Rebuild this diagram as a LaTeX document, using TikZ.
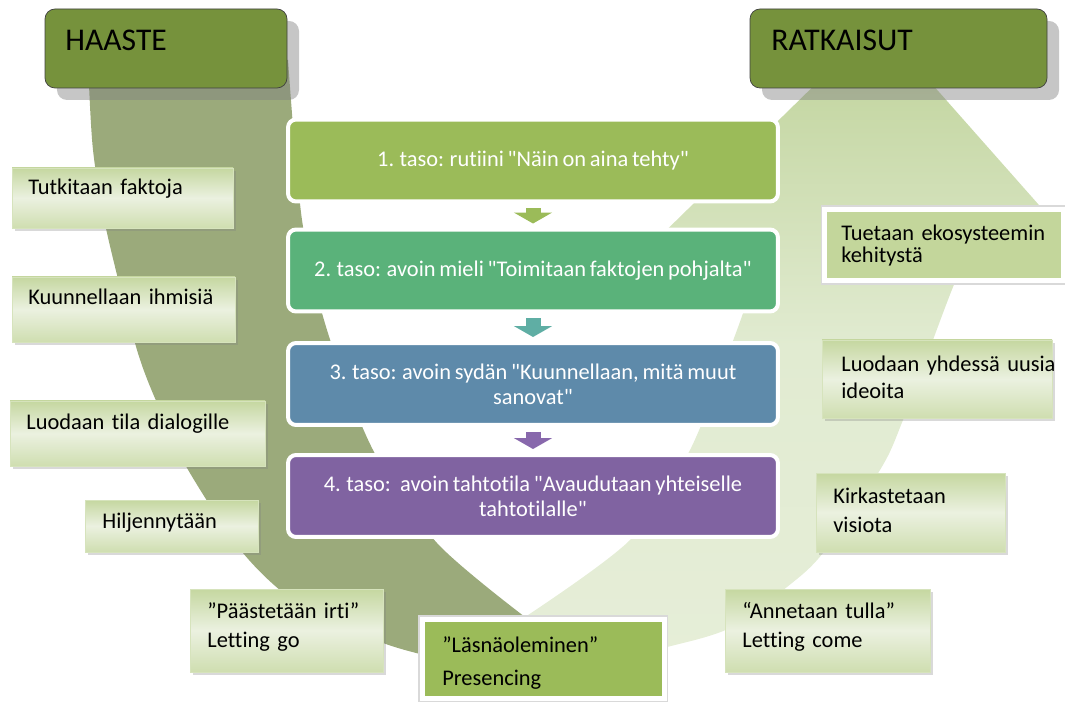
\documentclass[tikz,border=0pt]{standalone}
\usepackage{fontspec}
\setmainfont{Carlito}[Ligatures={TeXOff,NoCommon}, WordSpace=0.75]
\usetikzlibrary{arrows.meta,fit,shadows}
\definecolor{hdgreen}{RGB}{118,146,60}
\definecolor{darkband}{RGB}{155,170,123}
\definecolor{bandtop}{RGB}{190,210,152}
\definecolor{bandmid}{RGB}{225,235,209}
\definecolor{bandlow}{RGB}{230,238,216}
\definecolor{lvone}{RGB}{155,187,89}
\definecolor{lvtwo}{RGB}{90,178,122}
\definecolor{lvthree}{RGB}{94,138,170}
\definecolor{lvfour}{RGB}{128,99,161}
\definecolor{artwo}{RGB}{95,174,164}
\definecolor{arthree}{RGB}{136,104,172}
\definecolor{sdtop}{RGB}{197,215,160}
\definecolor{sdmid}{RGB}{235,241,224}
\definecolor{sdlow}{RGB}{207,222,176}
\definecolor{sdline}{RGB}{214,227,188}
\definecolor{ekofill}{RGB}{195,214,155}

\begin{document}
\begin{tikzpicture}[x=0.02cm, y=-0.02cm,
  header/.style={draw=black!75, fill=hdgreen, rounded corners=0.2cm, inner sep=0pt,
    drop shadow={shadow xshift=0.24cm, shadow yshift=-0.24cm, opacity=0.45}},
  headtext/.style={anchor=base west, inner sep=0pt, font=\fontsize{18}{22}\selectfont},
  level/.style={draw=white, line width=0.08cm, rounded corners=0.16cm, minimum width=9.8cm,
    minimum height=1.64cm, text=white, align=center, font=\fontsize{12.75}{14.2}\selectfont},
  lvarrow/.style={line width=0.3cm, -{Triangle[width=0.76cm,length=0.22cm]},
    shorten <=0.1cm, shorten >=0.08cm},
  sidebox/.style={draw=sdline, inner sep=0pt, top color=sdtop, bottom color=sdlow, middle color=sdmid,
    drop shadow={shadow xshift=0.06cm, shadow yshift=-0.06cm, opacity=0.3}},
  framebox/.style={draw=white, line width=0.1cm, inner sep=0pt,
    preaction={draw=black!15, line width=0.16cm}},
  sidetext/.style={anchor=base west, inner sep=0pt, text width=4.4cm, align=left,
    font=\fontsize{12.75}{17}\selectfont}]
\useasboundingbox (0,0) rectangle (1065,702);

% the U: letting go (left) and letting come (right)
\fill[darkband] plot[smooth] coordinates {(88,60) (93,150) (107,233) (137,350) (160,410)
    (187,468) (243,553) (300,605) (383,643) (450,660) (530,667)}
  -- (525,617)
  -- plot[smooth] coordinates {(525,617) (437,543) (373,450) (327,330) (302,220) (288,60)} -- cycle;
\shade[top color=bandtop, bottom color=bandlow, middle color=bandmid]
  plot[smooth] coordinates {(530,667) (600,661) (667,647) (730,628) (787,587) (823,553)
    (880,470) (903,420) (953,287) (972,250)}
  -- (1046,213) -- (878,23) -- (640,256) -- (760,262)
  -- plot[smooth] coordinates {(760,262) (737,330) (690,450) (630,540) (525,617)} -- cycle;

% headers
\node[header, fit={(45,9) (287,88)}] (haaste) {};
\node[header, fit={(750,9) (1047,88)}] (ratkaisut) {};
\node[headtext] (haaste-t) at (65,51) {HAASTE};
\node[headtext] (ratkaisut-t) at (771,51) {RATKAISUT};

% levels
\node[level, fill=lvone] (taso1) at (533,160.5) {1. taso: rutiini "Näin on aina tehty"};
\node[level, fill=lvtwo] (taso2) at (533,270.5) {2. taso: avoin mieli "Toimitaan faktojen pohjalta"};
\node[level, fill=lvthree] (taso3) at (533,384) {3. taso: avoin sydän "Kuunnellaan, mitä muut\\sanovat"};
\node[level, fill=lvfour] (taso4) at (533,496) {4. taso: \ avoin tahtotila "Avaudutaan yhteiselle\\tahtotilalle"};
\draw[lvarrow, lvone] (taso1) -- (taso2);
\draw[lvarrow, artwo] (taso2) -- (taso3);
\draw[lvarrow, arthree] (taso3) -- (taso4);

% left side
\node[sidebox, fit={(12,168) (233,228)}] (faktat) {};
\node[sidetext] (faktat-t) at (28,195) {Tutkitaan faktoja};
\node[sidebox, fit={(12,277) (235,342)}] (ihmiset) {};
\node[sidetext] (ihmiset-t) at (28,305) {Kuunnellaan ihmisiä};
\node[sidebox, fit={(10,401) (265,466)}] (dialogi) {};
\node[sidetext] (dialogi-t) at (26,430) {Luodaan tila dialogille};
\node[sidebox, fit={(85,500) (258,552)}] (hiljaisuus) {};
\node[sidetext] (hiljaisuus-t) at (102,528) {Hiljennytään};
\node[sidebox, fit={(190,589) (383,672)}] (irti) {};
\node[sidetext] (irti-t) at (207,618) {”Päästetään irti”\\Letting go};

% bottom
\node[framebox, fill=lvone, fit={(422,619) (664,698)}] (lasna) {};
\node[sidetext, font=\fontsize{12.75}{18.8}\selectfont] (lasna-t) at (442,652) {”Läsnäoleminen”\\Presencing};

% right side
\node[framebox, fill=ekofill, fit={(824.5,209.5) (1063,281)}] (eko) {};
\node[sidetext, font=\fontsize{12.75}{12.5}\selectfont] (eko-t) at (841,241) {Tuetaan ekosysteemin\\kehitystä};
\node[sidebox, fit={(822,340) (1052,418)}] (ideat) {};
\node[sidetext, font=\fontsize{12.75}{14.8}\selectfont] (ideat-t) at (841,372) {Luodaan yhdessä uusia\\ideoita};
\node[sidebox, fit={(816,473) (1005,552)}] (visio) {};
\node[sidetext] (visio-t) at (833,503) {Kirkastetaan\\visiota};
\node[sidebox, fit={(725,589) (930,672)}] (tulla) {};
\node[sidetext] (tulla-t) at (742,618) {“Annetaan tulla”\\Letting come};
\end{tikzpicture}
\end{document}
